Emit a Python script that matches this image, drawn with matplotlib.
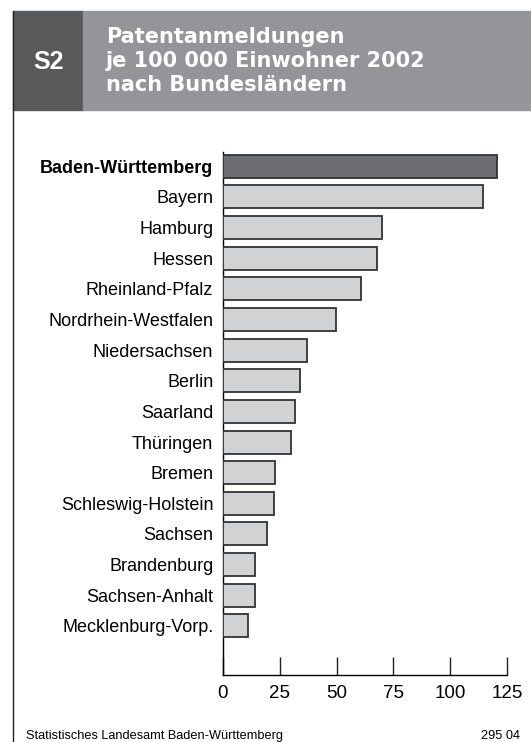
import matplotlib.pyplot as plt
import matplotlib.patches as mpatches

# ── DATEN ─────────────────────────────────────────────────────────────────────
LAENDER = [
    "Baden-Württemberg", "Bayern", "Hamburg", "Hessen", "Rheinland-Pfalz",
    "Nordrhein-Westfalen", "Niedersachsen", "Berlin", "Saarland", "Thüringen",
    "Bremen", "Schleswig-Holstein", "Sachsen", "Brandenburg",
    "Sachsen-Anhalt", "Mecklenburg-Vorp.",
]
WERTE = [120.5, 114.3, 70.1, 67.8, 60.6, 49.9, 37.1, 33.7, 31.8, 30.1,
         22.9, 22.4, 19.2, 14.2, 13.9, 10.9]
X_TICKS = [0, 25, 50, 75, 100, 125]

TITEL = "Patentanmeldungen\nje 100 000 Einwohner 2002\nnach Bundesländern"
QUELLE = "Statistisches Landesamt Baden-Württemberg"
NUMMER = "295 04"

# ── STIJL ─────────────────────────────────────────────────────────────────────
DUNKEL = "#58595b"
HELL = "#939598"
BALKEN_BW = "#6d6e71"
BALKEN = "#d1d2d4"
RAND = "#333333"

plt.rcParams["font.family"] = ["Liberation Sans", "DejaVu Sans"]

W, H = 531, 742
fig = plt.figure(figsize=(W / 100, H / 100), dpi=100)


def fx(px):
    return px / W


def fy(py):
    return 1 - py / H


# Kopfbereich
fig.patches.append(mpatches.Rectangle((fx(13), fy(110)), fx(83 - 13), 99 / H,
                                      transform=fig.transFigure, color=DUNKEL, zorder=0))
fig.patches.append(mpatches.Rectangle((fx(83), fy(110)), fx(W - 83), 99 / H,
                                      transform=fig.transFigure, color=HELL, zorder=0))
fig.add_artist(plt.Line2D([fx(13), fx(13)], [fy(11), 0], transform=fig.transFigure,
                          color="#222222", linewidth=1.0))
fig.text(fx(48.5), fy(62), "S2", color="white", fontsize=18, fontweight="bold",
         ha="center", va="center")
fig.text(fx(106), fy(61), TITEL, color="white", fontsize=15, fontweight="bold",
         family="DejaVu Sans", ha="left", va="center", linespacing=1.22)

# Diagramm
ax = fig.add_axes([fx(223), fy(675), fx(507 - 223), (675 - 152) / H])
farben = [BALKEN_BW] + [BALKEN] * (len(WERTE) - 1)
pos = list(range(len(LAENDER)))
ax.barh(pos, WERTE, height=0.75, color=farben, edgecolor=RAND, linewidth=1.3, zorder=3)

ax.set_xlim(0, 125)
ax.set_ylim(16.6, -0.46)
ax.set_yticks(pos)
ax.set_yticklabels(LAENDER, fontsize=13)
ax.get_yticklabels()[0].set_fontweight("bold")
ax.tick_params(axis="y", length=0, pad=7)
ax.set_xticks(X_TICKS)
ax.tick_params(axis="x", direction="in", length=13, width=1.0, labelsize=13.5,
               pad=7, color="#222222")
for s in ["top", "right"]:
    ax.spines[s].set_visible(False)
ax.spines["left"].set_linewidth(1.0)
ax.spines["bottom"].set_linewidth(1.0)

# Fußzeile
fig.text(fx(26), fy(736), QUELLE, fontsize=9.2, ha="left", va="center")
fig.text(fx(520), fy(736), NUMMER, fontsize=9.2, ha="right", va="center")

fig.savefig("out.png", dpi=100)
